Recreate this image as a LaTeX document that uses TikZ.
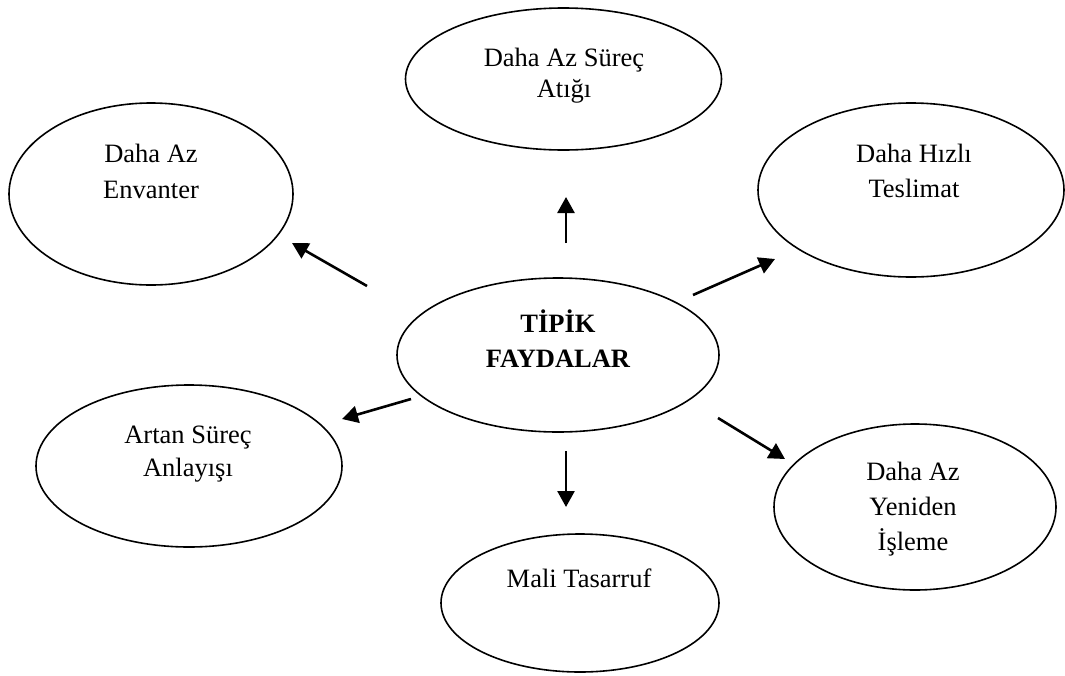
\documentclass[tikz,border=0pt]{standalone}
\usepackage{fontspec}
\setmainfont{Liberation Serif}
\usetikzlibrary{shapes.geometric,arrows.meta}
% multi-line label whose reference point is the first baseline
\newcommand\lbl[2]{\fontsize{26.5}{#1}\selectfont\begin{tabular}[t]{@{}c@{}}#2\end{tabular}}
\begin{document}
\begin{tikzpicture}[x=1pt,y=-1pt,
  bubble/.style={ellipse,draw,line width=1.6pt,inner sep=0pt},
  caption/.style={anchor=base,inner sep=0pt},
  link/.style={line width=2.6pt,-{Triangle[length=16pt,width=17pt]}}]
\useasboundingbox (0,0) rectangle (1065,675);
% ellipses
\node[bubble,minimum width=316pt,minimum height=142pt] (waste) at (563.5,79) {};
\node[bubble,minimum width=284pt,minimum height=182pt] (inv) at (151,194) {};
\node[bubble,minimum width=306pt,minimum height=174pt] (fast) at (911,190) {};
\node[bubble,minimum width=322pt,minimum height=154pt] (core) at (558,355) {};
\node[bubble,minimum width=306pt,minimum height=162pt] (und) at (189,466) {};
\node[bubble,minimum width=282pt,minimum height=166pt] (rework) at (915,507) {};
\node[bubble,minimum width=278pt,minimum height=138pt] (money) at (580,603) {};
% labels
\node[caption] (twaste) at (564,66) {\lbl{31pt}{Daha Az Süreç\\Atığı}};
\node[caption] (tinv) at (151,162) {\lbl{36pt}{Daha Az\\Envanter}};
\node[caption] (tfast) at (914,162) {\lbl{35pt}{Daha Hızlı\\Teslimat}};
\node[caption] (tcore) at (558,332) {\lbl{35pt}{\bfseries TİPİK\\\bfseries FAYDALAR}};
\node[caption] (tund) at (188,443) {\lbl{33pt}{Artan Süreç\\Anlayışı}};
\node[caption] (trework) at (913,480) {\lbl{35pt}{Daha Az\\Yeniden\\İşleme}};
\node[caption] (tmoney) at (579,587) {\lbl{35pt}{Mali Tasarruf}};
% arrow end points
\coordinate (a1) at (566,243);  \coordinate (b1) at (566,197);
\coordinate (a2) at (367,286);  \coordinate (b2) at (292,243);
\coordinate (a3) at (693,295);  \coordinate (b3) at (775,259);
\coordinate (a4) at (411,399);  \coordinate (b4) at (342,419);
\coordinate (a5) at (718,418);  \coordinate (b5) at (785,459);
\coordinate (a6) at (566,451);  \coordinate (b6) at (566,507);
\foreach \i in {1,...,6} \draw[link] (a\i) -- (b\i);
\end{tikzpicture}
\end{document}
